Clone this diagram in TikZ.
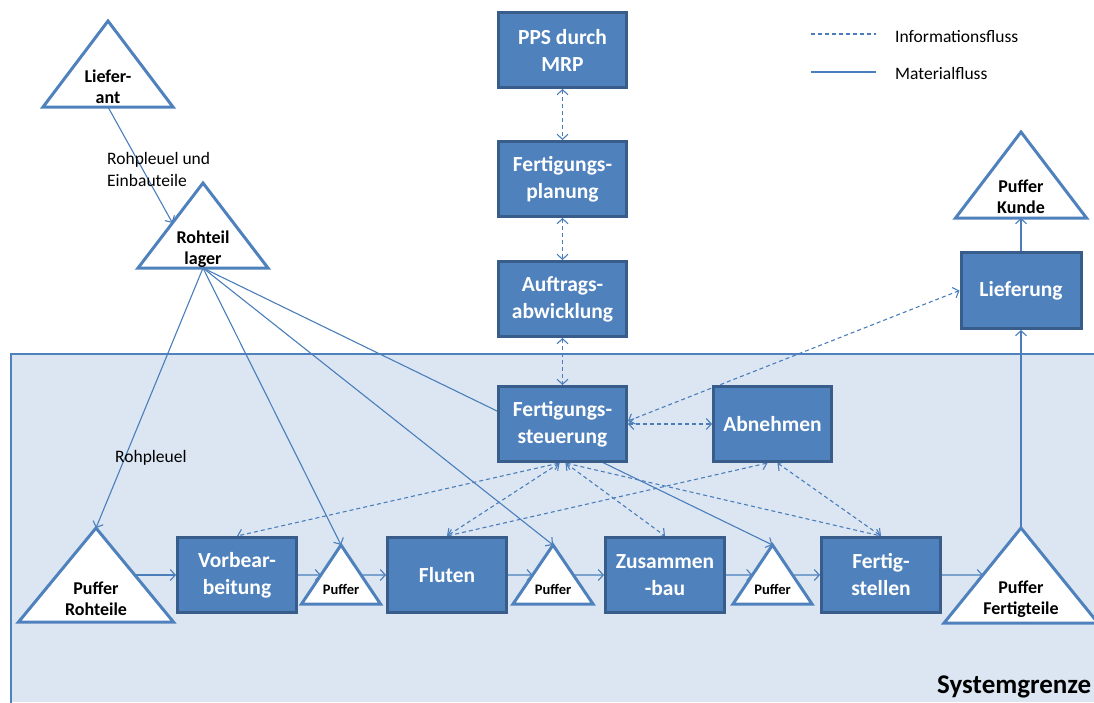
\documentclass[tikz,border=0pt]{standalone}
\usepackage{fontspec}
\setmainfont{Carlito}
\usetikzlibrary{arrows.meta,calc}

\definecolor{boxfill}{HTML}{4F81BD}
\definecolor{boxedge}{HTML}{385D8A}
\definecolor{flow}{HTML}{4A7EBB}
\definecolor{zone}{HTML}{DCE6F2}

\pgfdeclarelayer{back}
\pgfdeclarelayer{links}
\pgfsetlayers{back,links,main}

% buffer triangle: #1 name, #2/#3 apex, #4 half base, #5 height,
% #6 text centre y, #7 text style, #8 text
\newcommand\buffertri[8]{%
  \coordinate (#1-a) at (#2,#3);
  \coordinate (#1-bl) at ({#2-#4},{#3+#5});
  \coordinate (#1-br) at ({#2+#4},{#3+#5});
  \coordinate (#1-b) at (#2,{#3+#5});
  \coordinate (#1-in) at ($(#1-a)!{(575-#3)/#5}!(#1-bl)$);
  \coordinate (#1-out) at ($(#1-a)!{(575-#3)/#5}!(#1-br)$);
  \draw[tri] (#1-a) -- (#1-bl) -- (#1-br) -- cycle;
  \node[#7] (#1) at (#2,#6) {#8};
}

\begin{document}
\begin{tikzpicture}[x=1pt,y=-1pt,
  proc/.style={rectangle, fill=boxfill, draw=boxedge, line width=3pt,
    text=white, font=\fontsize{21.5}{27}\selectfont\bfseries, align=center,
    minimum width=128pt, minimum height=75pt, inner sep=0pt},
  tri/.style={fill=white, draw=boxfill, line width=3pt, line join=miter},
  tritext/.style={font=\fontsize{18}{21}\selectfont\bfseries, align=center, inner sep=0pt},
  smalltext/.style={font=\fontsize{14.5}{17}\selectfont\bfseries, align=center, inner sep=0pt},
  label/.style={font=\fontsize{17.5}{22}\selectfont, align=left, inner sep=0pt},
  tip/.tip={Straight Barb[length=5pt,width=11pt]},
  mat/.style={draw=flow, line width=1.1pt, -tip},
  inf/.style={draw=flow, line width=1.1pt, dash pattern=on 4pt off 3pt, tip-tip},
]
\useasboundingbox (0,0) rectangle (1094,702);

% system boundary
\begin{pgfonlayer}{back}
  \fill[zone] (11,354) rectangle (1094,702);
  \draw[draw=boxfill, line width=2.5pt] (1096,354) -- (11,354) -- (11,704);
\end{pgfonlayer}
\begin{scope}
  \clip (0,0) rectangle (1094,702);
  \node[anchor=base west, inner sep=0pt, font=\fontsize{27}{32}\selectfont\bfseries]
    (sg) at (937,693) {Systemgrenze};
\end{scope}

% planning and control boxes
\node[proc] (pps) at (562.5,50)  {PPS durch\\MRP};
\node[proc] (fp)  at (562.5,179) {Fertigungs-\\planung};
\node[proc] (aa)  at (562.5,299) {Auftrags-\\abwicklung};
\node[proc] (st)  at (562.5,424) {Fertigungs-\\steuerung};
\node[proc, minimum width=118pt] (ab) at (772.5,424) {Abnehmen};
\node[proc, minimum width=120pt, minimum height=76pt] (li) at (1021,290.5) {Lieferung};

% production steps
\node[proc, minimum width=119pt] (vb) at (237,575) {Vorbear-\\beitung};
\node[proc, minimum width=119pt] (fl) at (447,575) {Fluten};
\node[proc, minimum width=119pt] (zb) at (665,575) {Zusammen\\-bau};
\node[proc, minimum width=119pt] (fs) at (881,575) {Fertig-\\stellen};

% buffers and stores
\buffertri{lf}{108}{21}{65}{86}{87}{tritext}{Liefer-\\ant}
\buffertri{rl}{203}{183}{65}{85}{249}{tritext}{Rohteil\\lager}
\buffertri{pk}{1021}{132}{65.5}{86}{197}{tritext}{Puffer\\Kunde}
\buffertri{pr}{96}{528}{77.5}{94}{599}{tritext}{Puffer\\Rohteile}
\buffertri{p1}{341}{545}{39.5}{59}{589}{smalltext}{Puffer}
\buffertri{p2}{553}{545}{40}{59}{589}{smalltext}{Puffer}
\buffertri{p3}{772.5}{545}{39.5}{59}{589}{smalltext}{Puffer}
\buffertri{pf}{1021}{528}{77}{95}{599}{tritext}{Puffer\\Fertigteile}

\coordinate (rl-hit) at ($(rl-a)!0.47!(rl-bl)$);

% edge labels
\node[label, anchor=west] (lbl1) at (107,169) {Rohpleuel und\\Einbauteile};
\node[label, anchor=west] (lbl2) at (115,458) {Rohpleuel};

% legend
\coordinate (lg1a) at (811,34);
\coordinate (lg1b) at (876,34);
\coordinate (lg2a) at (811,72);
\coordinate (lg2b) at (876,72);
\draw[draw=flow, line width=1.1pt, dash pattern=on 4pt off 3pt] (lg1a) -- (lg1b);
\draw[draw=flow, line width=1.1pt] (lg2a) -- (lg2b);
\node[label, anchor=west] (lgt1) at (895,37) {Informationsfluss};
\node[label, anchor=west] (lgt2) at (895,73) {Materialfluss};

\begin{pgfonlayer}{links}
  % material flow
  \draw[mat] (lf-b) -- (rl-hit);
  \draw[mat] (rl-b) -- (pr-a);
  \draw[mat] (rl-b) -- (p1-a);
  \draw[mat] (rl-b) -- (p2-a);
  \draw[mat] (rl-b) -- (p3-a);
  \draw[mat] (pr-out) -- (vb.west);
  \draw[mat] (vb.east) -- (p1-in);
  \draw[mat] (p1-out) -- (fl.west);
  \draw[mat] (fl.east) -- (p2-in);
  \draw[mat] (p2-out) -- (zb.west);
  \draw[mat] (zb.east) -- (p3-in);
  \draw[mat] (p3-out) -- (fs.west);
  \draw[mat] (fs.east) -- (pf-in);
  \draw[mat] (pf-a) -- (li.south);
  \draw[mat] (li.north) -- (pk-b);

  % information flow
  \draw[inf] (pps.south) -- (fp.north);
  \draw[inf] (fp.south) -- (aa.north);
  \draw[inf] (aa.south) -- (st.north);
  \draw[inf] (st.east) -- (ab.west);
  \draw[inf] ($(st.east)+(0,-3)$) -- (li.west);
  \draw[inf] ($(st.south)+(-3,0)$) -- (vb.north);
  \draw[inf] ($(st.south)+(-3,0)$) -- (fl.north);
  \draw[inf] ($(st.south)+(3,0)$) -- (zb.north);
  \draw[inf] ($(st.south)+(3,0)$) -- (fs.north);
  \draw[inf] ($(ab.south)+(-5,0)$) -- (fl.north);
  \draw[inf] ($(ab.south)+(5,0)$) -- (fs.north);
\end{pgfonlayer}
\end{tikzpicture}
\end{document}
